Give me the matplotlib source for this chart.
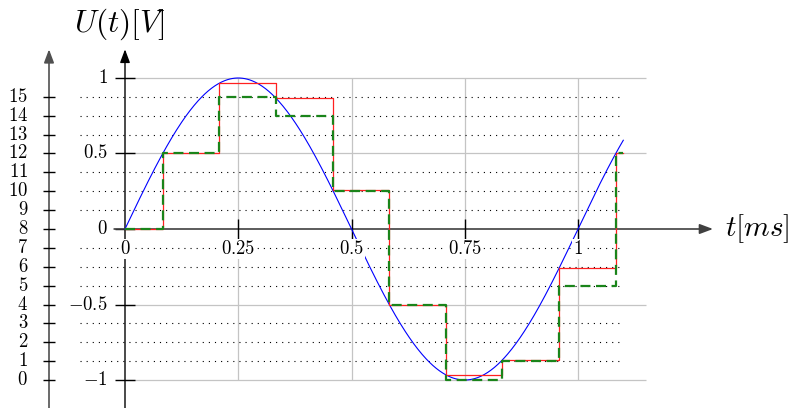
import numpy as np
import matplotlib
matplotlib.use('Agg')
import matplotlib.pyplot as plt
from matplotlib.patches import FancyArrowPatch

plt.rcParams['mathtext.fontset'] = 'cm'
plt.rcParams['font.family'] = ['DejaVu Serif']

# ---------------- data ----------------
amplitude = 1.0          # V
freq_khz = 1.0           # kHz
t_end = 1.1              # ms
sample_times = [0.0, 0.0833, 0.2083, 0.3333, 0.4583, 0.5833, 0.7083, 0.8333, 0.9583, 1.0833]
held_values = [0.0, 0.5, 0.966, 0.866, 0.259, -0.5, -0.966, -0.866, -0.259, 0.5]
quant_levels = [8, 12, 15, 14, 10, 4, 0, 1, 5, 12]
level_ticks = list(range(16))
volt_ticks = [-1, -0.5, 0, 0.5, 1]
volt_labels = ['$-1$', '$-0.5$', '$0$', '$0.5$', '$1$']
time_ticks = [0, 0.25, 0.5, 0.75, 1]
time_labels = ['$0$', '$0.25$', '$0.5$', '$0.75$', '$1$']
grid_times = [0.25, 0.5, 0.75, 1]
grid_volts = [-1, -0.5, 0.5, 1]


def level_to_volt(k):
    return (k - 8) / 8.0


# ---------------- layout ----------------
W, H = 790, 408
x0px, xscale = 125, 453
y0px, yscale = 229, 151

fig = plt.figure(figsize=(W / 100, H / 100), dpi=100)
ax = fig.add_axes([0, 0, 1, 1])
ax.set_xlim(-x0px / xscale, (W - x0px) / xscale)
ax.set_ylim((y0px - H) / yscale, y0px / yscale)
ax.axis('off')

grid_col = '#c4c4c4'
# grid
ax.vlines(grid_times, -1, 1, colors=grid_col, lw=0.9, zorder=1)
ax.hlines(grid_volts, 0, 1.15, colors=grid_col, lw=0.9, zorder=1)

# dotted quantization levels
for k in level_ticks:
    if k % 4 != 0:
        ax.plot([-0.1, 1.1], [level_to_volt(k)] * 2, color='black', lw=0.8,
                ls=(0, (1, 4.5)), zorder=1.5)

# sine
t = np.linspace(0, t_end, 600)
u = amplitude * np.sin(2 * np.pi * freq_khz * t)
ax.plot(t, u, color='#0000ff', lw=0.8, zorder=3)

# sample & hold (red)
st = sample_times + [t_end]
ax.step(st, held_values + [held_values[-1]], where='post', color='#ff2020', lw=0.9, zorder=4)

# quantized (green dashed)
qv = [level_to_volt(k) for k in quant_levels]
ax.step(st, qv + [qv[-1]], where='post', color='#1a841a', lw=1.6,
        dashes=(4.5, 2.5), zorder=5)

# axes lines with arrows
def arrow(p0, p1, color, lw, z):
    a = FancyArrowPatch(p0, p1, arrowstyle='-|>,head_length=0.8,head_width=0.3',
                        mutation_scale=10, color=color, lw=lw, shrinkA=0, shrinkB=0,
                        zorder=z)
    ax.add_patch(a)

ybot = (y0px - H) / yscale
x_level = -76 / xscale
arrow((0, ybot), (0, 1.19), 'black', 1.0, 2)
arrow((x_level, ybot), (x_level, 1.19), '#505050', 1.2, 2)
arrow((-0.024, 0), (1.298, 0), '#404040', 1.2, 2.5)

# main y ticks
tick_half = 10 / xscale
ax.hlines(volt_ticks, -tick_half, tick_half, colors='black', lw=1.0, zorder=2)
for v, lab in zip(volt_ticks, volt_labels):
    ax.text(-17 / xscale, v, lab, ha='right', va='center', fontsize=13.5, zorder=6)

# level ticks
lt_half = 6 / xscale
ax.hlines([level_to_volt(k) for k in level_ticks], x_level - lt_half, x_level + lt_half,
          colors='black', lw=1.0, zorder=2)
for k in level_ticks:
    ax.text(-97 / xscale, level_to_volt(k), f'${k}$', ha='right', va='center',
            fontsize=13.5, zorder=6)

# x ticks
ax.vlines([tt for tt in time_ticks if tt != 0], -10 / yscale, 10 / yscale,
          colors='black', lw=1.0, zorder=2.6)
for tt, lab in zip(time_ticks, time_labels):
    ax.text(tt, -20 / yscale, lab, ha='center', va='center', fontsize=13.5, zorder=6,
            bbox=dict(facecolor='white', edgecolor='none', pad=0.5))

# axis titles
ax.text(-5.5 / xscale, 205 / yscale, r'$U(t)[V]$', ha='center', va='center', fontsize=22.5)
ax.text(600 / xscale, 0, r'$t[ms]$', ha='left', va='center', fontsize=21)

fig.savefig('out.png', dpi=100)
